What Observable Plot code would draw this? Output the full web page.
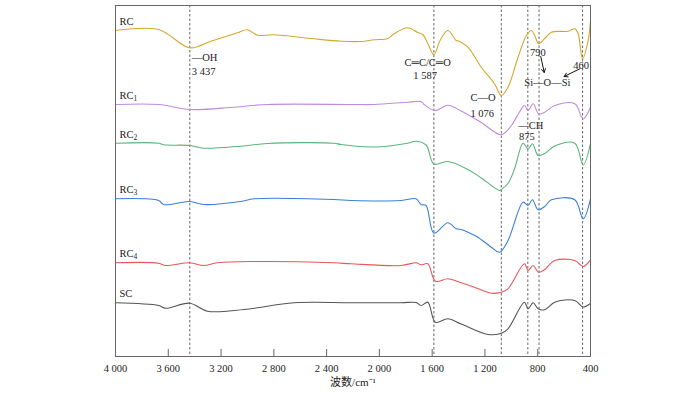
<!DOCTYPE html>
<html>
<head>
<meta charset="utf-8">
<script src="https://cdn.jsdelivr.net/npm/d3@7"></script>
<script src="https://cdn.jsdelivr.net/npm/@observablehq/plot@0.6"></script>
<style>
  html, body { margin: 0; padding: 0; background: #fff; }
  #chart { width: 700px; height: 395px; }
</style>
</head>
<body>
<div id="chart"></div>
<script>
// Wavenumber (cm^-1) and relative intensity (offset spectra, larger = lower on page)
const RC = [[4000,30],[3673,29],[3437,47.3],[3278,40.7],[3076,32.3],[3000,29.3],[2924,34.7],[2800,34.3],[2519,38],[2291,40.7],[2139,41],[2040,39.3],[1936,38],[1889,33.3],[1785,27.3],[1709,32],[1671,34],[1633,43],[1587,54.3],[1540,40],[1481,30],[1418,40],[1395,40.7],[1329,46.7],[1228,66.7],[1129,83],[1076,95],[1025,86.7],[949,56.7],[886,35],[848,30],[823,35],[793,43.3],[747,38],[696,31.7],[569,30.7],[519,28.3],[494,33],[460,58.3],[418,40],[400,20]];
const RC1 = [[4000,104],[3673,104],[3437,109],[3104,106.7],[2848,104],[2215,104],[2040,104],[1785,101.7],[1684,101],[1661,104],[1580,110],[1481,104.7],[1380,110.5],[1228,122],[1076,134.3],[1000,125],[939,111.7],[901,105],[873,110],[835,103.3],[793,113.3],[747,111.7],[671,105],[519,103.3],[456,118.3],[400,106.7]];
const RC2 = [[4000,142.7],[3673,142.7],[3635,144.3],[3437,145],[3332,147.7],[3051,145.7],[2848,143],[2344,142.7],[2291,144],[2040,146.5],[1785,142.7],[1722,140.7],[1646,144.5],[1587,163.5],[1481,161],[1329,169],[1228,177.5],[1089,190],[1076,189],[1025,183],[975,168],[911,142.7],[873,148.3],[840,143.3],[797,155],[747,153],[671,145.5],[519,142.7],[456,164.5],[400,143]];
const RC3 = [[4000,198.3],[3673,200],[3635,204],[3437,201],[3332,204],[3051,201],[2950,198.3],[2344,199],[2215,200],[1835,200],[1722,198.3],[1684,204],[1646,205],[1587,232.7],[1481,222.3],[1418,228.3],[1380,229],[1329,231.7],[1253,236.7],[1152,246.7],[1089,251.7],[1025,240],[911,201.7],[873,205],[840,199.3],[797,209.3],[747,206],[696,199.3],[519,199.3],[456,218.3],[400,198.3]];
const RC4 = [[4000,262.3],[3673,262.7],[3620,265],[3437,262.3],[3332,265],[3228,262.3],[2950,261],[2344,262.3],[2215,263.3],[1835,265],[1722,262.3],[1684,264.3],[1633,263.3],[1575,280.7],[1481,278.3],[1380,282.3],[1279,286.7],[1152,292.7],[1076,291.7],[1025,288.3],[901,263.3],[873,270],[835,265],[793,271.7],[747,269],[671,260],[519,260],[456,266],[400,259.3]];
const SC = [[4000,302.3],[3673,305],[3620,307.7],[3437,302.7],[3304,310.7],[3026,309],[2646,302.3],[2215,302.3],[1835,302.3],[1722,302],[1684,305],[1633,301.7],[1575,321.7],[1481,318.3],[1380,323.5],[1177,334],[1076,332.7],[1025,328.3],[901,301.7],[873,308.3],[835,302.3],[797,308.3],[747,309.3],[671,301.7],[519,300],[456,306.5],[400,303]];

const seriesNames = ["RC", "RC1", "RC2", "RC3", "RC4", "SC"];
const seriesData = [RC, RC1, RC2, RC3, RC4, SC];
const seriesBase = ["RC", "RC", "RC", "RC", "RC", "SC"];
const seriesSub = ["", "1", "2", "3", "4", ""];
const colors = ["#d4a72c", "#c08ae0", "#5bb47c", "#3b7fd6", "#e85759", "#555555"];

const peaks = [3437, 1587, 1076, 875, 790, 460];
const xTicks = [4000, 3600, 3200, 2800, 2400, 2000, 1600, 1200, 800, 400];

// annotations: [wavenumber, intensity, text]
const notesStart = [
  [3437, 57, "—OH"],
  [3437, 71, "3 437"]
];
const notesMiddle = [
  [1634, 62, "C═C/C═O"],
  [1653, 75, "1 587"],
  [1215, 97, "C—O"],
  [1220, 113, "1 076"],
  [852, 125, "—CH"],
  [882, 136.5, "875"],
  [799, 52, "790"],
  [727, 82.5, "Si—O—Si"],
  [472, 65, "460"]
];
const arrows = [
  [777, 56, 751, 72],
  [481, 68.3, 600, 76]
];

const table = seriesData.flatMap((d, i) => d.map(([wn, v]) => ({wn, v, name: seriesNames[i]})));
const labels = seriesNames.map((n, i) => ({name: n, base: seriesBase[i], sub: seriesSub[i], wn: 4000, v: seriesData[i][0][1]}));

const fmt = d => d3.format(",")(d).replace(",", " ");
const font = "'Liberation Serif', 'Times New Roman', 'Noto Sans CJK SC', serif";

const chart = Plot.plot({
  width: 700,
  height: 395,
  marginTop: 5,
  marginBottom: 39,
  marginLeft: 115,
  marginRight: 110,
  style: {fontFamily: font, fontSize: "10.5px", color: "#222", background: "#fff"},
  x: {domain: [4000, 400]},
  y: {domain: [356, 5], axis: null},
  color: {domain: seriesNames, range: colors},
  marks: [
    Plot.ruleX(peaks, {stroke: "#555", strokeWidth: 0.9, strokeDasharray: "2.5,2"}),
    Plot.line(table, {x: "wn", y: "v", z: "name", stroke: "name", strokeWidth: 1.1, curve: "catmull-rom"}),
    Plot.text(labels, {x: "wn", y: "v", text: "base", dx: 4, dy: -9, textAnchor: "start", fontSize: 10.5, fill: "#222"}),
    Plot.text(labels, {x: "wn", y: "v", text: "sub", dx: 18, dy: -6, textAnchor: "start", fontSize: 7.5, fill: "#222"}),
    Plot.text(notesStart, {x: d => d[0], y: d => d[1], text: d => d[2], textAnchor: "start", dx: 2, fontSize: 10.5, fill: "#222"}),
    Plot.text(notesMiddle, {x: d => d[0], y: d => d[1], text: d => d[2], textAnchor: "middle", fontSize: 10.5, fill: "#222"}),
    Plot.arrow(arrows, {x1: d => d[0], y1: d => d[1], x2: d => d[2], y2: d => d[3], stroke: "#111", strokeWidth: 1, headLength: 6}),
    Plot.frame({stroke: "#666", strokeWidth: 1}),
    Plot.ruleX(xTicks, {stroke: "#666", strokeWidth: 1, insetTop: 344}),
    Plot.axisX(xTicks, {tickSize: 0, tickPadding: 8, tickFormat: fmt, fontSize: 10.5, label: null}),
    Plot.text(["波数/cm⁻¹"], {frameAnchor: "bottom", dy: 29, fontSize: 11, fill: "#222"})
  ]
});
document.getElementById("chart").append(chart);
</script>
</body>
</html>
